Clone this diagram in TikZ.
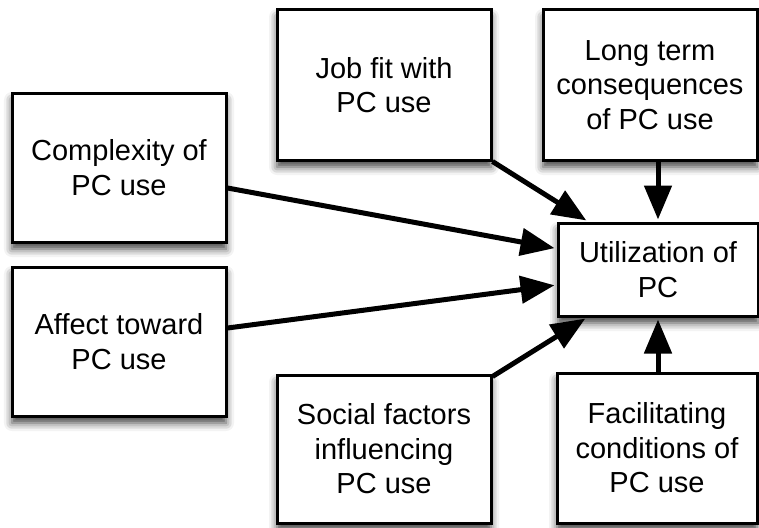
\documentclass[tikz,border=0pt]{standalone}
\usepackage{fontspec}
\setmainfont{Liberation Sans}
\usetikzlibrary{arrows.meta,shadows.blur}

\begin{document}
\begin{tikzpicture}[x=1pt,y=-1pt,
  factor/.style={draw=black, line width=3pt, fill=white, rectangle,
    align=center, inner sep=0pt,
    font=\fontsize{29}{34.5}\selectfont,
    blur shadow={shadow xshift=0pt, shadow yshift=-7pt,
      shadow blur radius=8pt, shadow opacity=75}},
  link/.style={line width=5pt, -{Triangle[length=34pt,width=27pt]},
    shorten >=2pt}]
\useasboundingbox (0,0) rectangle (759,527);

% factor boxes
\node[factor, minimum width=214pt, minimum height=149pt] (comp) at (119,167.5) {Complexity of\\PC use};
\node[factor, minimum width=214pt, minimum height=149pt] (aff) at (119,341.5) {Affect toward\\PC use};
\node[factor, minimum width=214pt, minimum height=150pt] (job) at (384,85) {Job fit with\\PC use};
\node[factor, minimum width=214pt, minimum height=150pt] (long) at (650,85) {Long term\\consequences\\of PC use};
\node[factor, minimum width=200pt, minimum height=93pt] (util) at (658,269.5) {Utilization of\\PC};
\node[factor, minimum width=214pt, minimum height=148pt] (soc) at (384,449) {Social factors\\influencing\\PC use};
\node[factor, minimum width=200pt, minimum height=150pt] (fac) at (657,448) {Facilitating\\conditions of\\PC use};

% influences on utilization
\draw[link] ([yshift=-20.5pt]comp.east) -- ([yshift=21pt]util.west);
\draw[link] ([yshift=13.5pt]aff.east) -- ([yshift=-15.5pt]util.west);
\draw[link] (job.south east) -- ([xshift=-70pt]util.north);
\draw[link] (long.south -| util.north) -- (util.north);
\draw[link] ([yshift=-3pt]soc.north east) -- ([xshift=-71pt]util.south);
\draw[link] (fac.north -| util.south) -- (util.south);
\end{tikzpicture}
\end{document}
